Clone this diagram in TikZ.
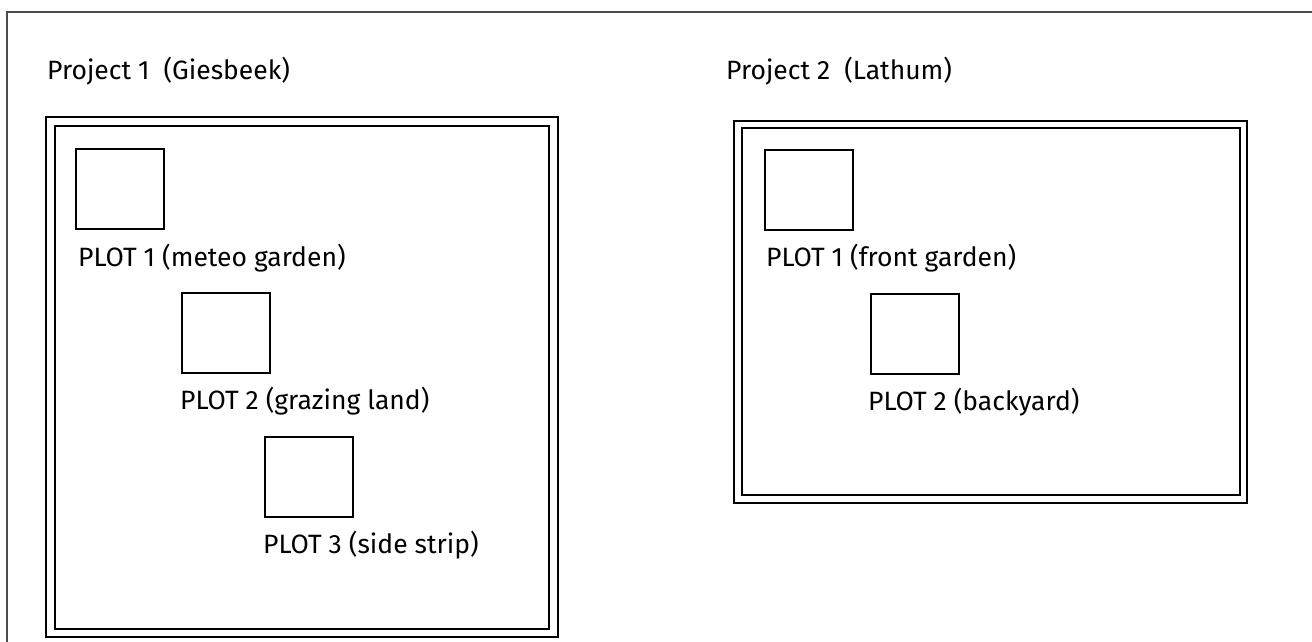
\documentclass[tikz,border=0pt]{standalone}
\usepackage{fontspec}
\setmainfont{Fira Sans}
\begin{document}
\begin{tikzpicture}[x=1pt,y=-1pt,
  frame/.style={draw=black!70,line width=1.2pt},
  dbl/.style={draw=black,line width=1.6pt},
  plotbox/.style={draw=black,line width=2pt,minimum width=88pt,minimum height=80pt,anchor=north west,inner sep=0pt},
  lbl/.style={anchor=base west,inner sep=0pt,font=\fontsize{26.5}{30}\selectfont}]
\useasboundingbox (0,0) rectangle (1312,641);
\draw[frame] (7,700) -- (7,12) -- (1330,12);
% Project 1
\node[lbl] (t1) at (47,79) {Project 1\ \ (Giesbeek)};
\draw[dbl] (46,117) rectangle (558,637);
\draw[dbl] (55,126) rectangle (549,629);
\node[plotbox] (p11) at (75,148) {};
\node[lbl] (l11) at (78,266) {PLOT 1 (meteo garden)};
\node[plotbox] (p12) at (181,292) {};
\node[lbl] (l12) at (180,409) {PLOT 2 (grazing land)};
\node[plotbox] (p13) at (264,436) {};
\node[lbl] (l13) at (263,553) {PLOT 3 (side strip)};
% Project 2
\node[lbl] (t2) at (726,79) {Project 2\ \ (Lathum)};
\draw[dbl] (734,121) rectangle (1247,503);
\draw[dbl] (742,128) rectangle (1240,495);
\node[plotbox] (p21) at (764,149) {};
\node[lbl] (l21) at (766,266) {PLOT 1 (front garden)};
\node[plotbox] (p22) at (870,293) {};
\node[lbl] (l22) at (868,410) {PLOT 2 (backyard)};
\end{tikzpicture}
\end{document}
